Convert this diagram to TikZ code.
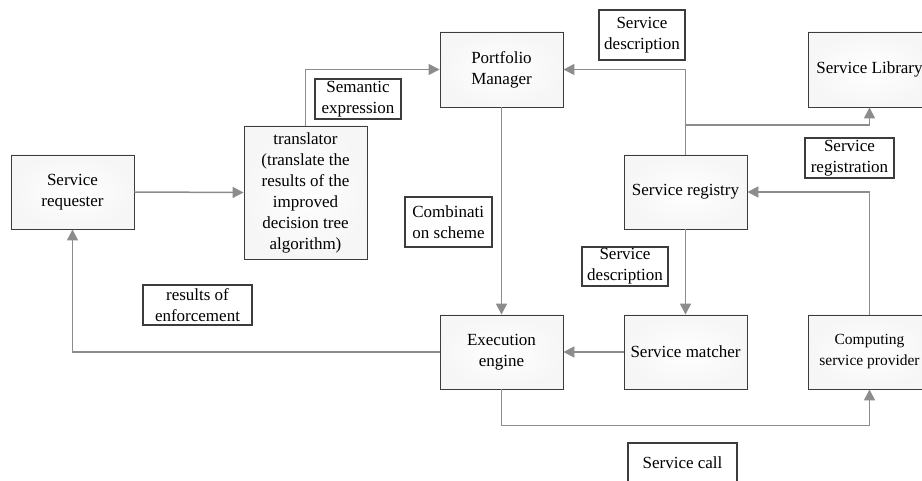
\documentclass[tikz,border=0pt]{standalone}
\usepackage{fontspec}
\setmainfont{Liberation Serif}
\usetikzlibrary{arrows.meta}
\definecolor{linegray}{HTML}{8C8C8C}
\definecolor{edgegray}{HTML}{3C3C3C}
\begin{document}
\begin{tikzpicture}[
		x=1pt, y=-1pt,
		every node/.style={
			align=center,
			font=\fontsize{17}{21}\selectfont
		},
		block/.style={
			draw=edgegray, line width=0.9pt, rectangle,
			inner color=white, outer color=gray!7,
			minimum width=123pt, minimum height=74pt
		},
		tag/.style={
			draw=edgegray, line width=1.3pt, rectangle, fill=white,
			inner sep=1pt
		},
		flow/.style={
			draw=linegray, line width=1.5pt,
			-{Triangle[length=11pt,width=11pt]}
		}
		]
		\useasboundingbox (0,0) rectangle (922,481);
		
		\node[block] (requester) at (72.5,192) {Service\\requester};
		\node[block, minimum height=133pt] (translator) at (305.5,192.5) {translator\\(translate the\\results of the\\improved\\decision tree\\algorithm)};
		\node[block, minimum height=75pt] (portfolio) at (501.5,69.5) {Portfolio\\Manager};
		\node[block] (engine) at (501.5,352) {Execution\\engine};
		\node[block] (registry) at (685.5,192) {Service registry};
		\node[block] (matcher) at (685.5,352) {Service matcher};
		\node[block, minimum height=75pt] (library) at (869.5,69.5) {Service Library};
		\node[block, font=\fontsize{15.5}{21}\selectfont] (provider) at (869.5,352) {Computing\\service provider};
		
		\node[tag, minimum width=86pt, minimum height=40pt] (semantic) at (358,99) {Semantic\\expression};
		\node[tag, minimum width=86pt, minimum height=50pt] (desctop) at (642,35) {Service\\description};
		\node[tag, minimum width=87pt, minimum height=50pt, align=left] (scheme) at (448.5,222) {Combinati\\on scheme};
		\node[tag, minimum width=109pt, minimum height=40pt] (results) at (197.5,305) {results of\\enforcement};
		\node[tag, minimum width=89pt, minimum height=40pt] (registration) at (849.5,158) {Service\\registration};
		\node[tag, minimum width=86pt, minimum height=39pt] (descmid) at (625,266.5) {Service\\description};
		\node[tag, minimum width=109pt, minimum height=40pt] (call) at (682.5,463) {Service call};
		
		\coordinate (split) at (685.5,125);
		
		\draw[flow] (requester.east) -- (translator.west);
		\draw[flow] (translator.north) |- (portfolio.west);
		\draw[flow] (registry.north) |- (portfolio.east);
		\draw[flow] (split) -| (library.south);
		\draw[flow] (portfolio.south) -- (engine.north);
		\draw[flow] (registry.south) -- (matcher.north);
		\draw[flow] (matcher.west) -- (engine.east);
		\draw[flow] (provider.north) |- (registry.east);
		\draw[flow] (engine.west) -| (requester.south);
		\draw[flow] (engine.south) -- ++(0,36) -| (provider.south);
	\end{tikzpicture}
\end{document}
